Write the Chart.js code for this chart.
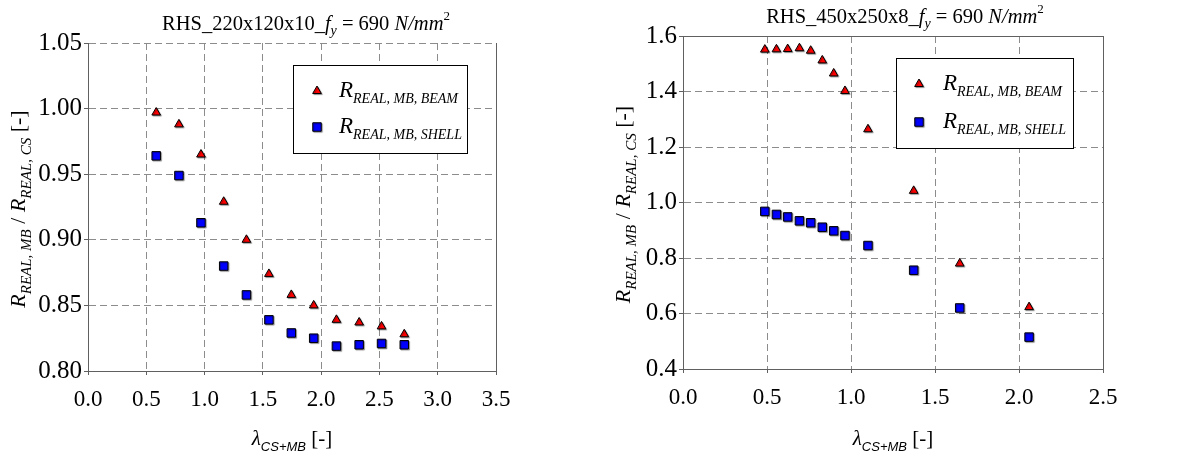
<!DOCTYPE html>
<html>
<head>
<meta charset="utf-8">
<script src="https://cdn.jsdelivr.net/npm/chart.js@4.4.1/dist/chart.umd.min.js"></script>
<style>
  html, body { margin: 0; padding: 0; background: #fff; }
  #wrap { position: relative; width: 1193px; height: 461px; overflow: hidden; }
  .cell { position: absolute; top: 0; height: 461px; }
  #cellA { left: 0; width: 596px; }
  #cellB { left: 596px; width: 597px; }
  canvas { display: block; }
</style>
</head>
<body>
<div id="wrap">
  <div class="cell" id="cellA"><canvas id="chartA" width="596" height="461"></canvas></div>
  <div class="cell" id="cellB"><canvas id="chartB" width="597" height="461"></canvas></div>
</div>
<script>
// ---- RHS 220x120x10, fy = 690 N/mm2 ----
const lambdaA = [0.585, 0.780, 0.969, 1.164, 1.359, 1.552, 1.744, 1.936, 2.131, 2.326, 2.518, 2.713];
const beamA   = [0.997, 0.988, 0.965, 0.929, 0.900, 0.874, 0.858, 0.850, 0.839, 0.837, 0.834, 0.828];
const shellA  = [0.964, 0.949, 0.913, 0.880, 0.858, 0.839, 0.829, 0.825, 0.819, 0.820, 0.821, 0.820];
const xTicksA = [0.0, 0.5, 1.0, 1.5, 2.0, 2.5, 3.0, 3.5];
const yTicksA = [0.80, 0.85, 0.90, 0.95, 1.00, 1.05];

// ---- RHS 450x250x8, fy = 690 N/mm2 ----
const lambdaB = [0.487, 0.556, 0.623, 0.693, 0.760, 0.829, 0.897, 0.964, 1.101, 1.373, 1.647, 2.060];
const beamB   = [1.551, 1.552, 1.553, 1.556, 1.547, 1.512, 1.465, 1.402, 1.264, 1.042, 0.780, 0.623];
const shellB  = [0.968, 0.957, 0.948, 0.934, 0.927, 0.911, 0.898, 0.881, 0.845, 0.756, 0.620, 0.515];
const xTicksB = [0.0, 0.5, 1.0, 1.5, 2.0, 2.5];
const yTicksB = [0.4, 0.6, 0.8, 1.0, 1.2, 1.4, 1.6];

const sectionA = 'RHS_220x120x10_';
const sectionB = 'RHS_450x250x8_';
const seriesNames = ['REAL, MB, BEAM', 'REAL, MB, SHELL'];

const SERIF = '"Liberation Serif", "Times New Roman", serif';
const SANS = '"Liberation Sans", Arial, sans-serif';
const font = (style, size, fam) => `${style} ${size}px ${fam}`;

// draw a run of text pieces (with sub/superscripts) along one baseline
function richWidth(ctx, segs) {
  let w = 0;
  for (const s of segs) { ctx.font = s.f; w += ctx.measureText(s.t).width; }
  return w;
}
function drawRich(ctx, segs, x, y, align) {
  ctx.save();
  ctx.fillStyle = '#000';
  ctx.textBaseline = 'alphabetic';
  ctx.textAlign = 'left';
  let cx = x;
  if (align === 'center') cx = x - richWidth(ctx, segs) / 2;
  for (const s of segs) {
    ctx.font = s.f;
    ctx.fillText(s.t, cx, y + (s.dy || 0));
    cx += ctx.measureText(s.t).width;
  }
  ctx.restore();
}

function titleSegs(section) {
  return [
    { t: section, f: font('normal', 20.5, SERIF) },
    { t: 'f', f: font('italic', 20.5, SERIF) },
    { t: 'y', f: font('italic', 14, SERIF), dy: 5 },
    { t: ' = 690 ', f: font('normal', 20.5, SERIF) },
    { t: 'N/mm', f: font('italic', 20.5, SERIF) },
    { t: '2', f: font('normal', 13, SERIF), dy: -10 }
  ];
}
const yTitleSegs = [
  { t: 'R', f: font('italic', 22, SERIF) },
  { t: 'REAL, MB', f: font('italic', 15, SERIF), dy: 6 },
  { t: ' / ', f: font('normal', 22, SERIF) },
  { t: 'R', f: font('italic', 22, SERIF) },
  { t: 'REAL, CS', f: font('italic', 15, SERIF), dy: 6 },
  { t: ' [-]', f: font('normal', 22, SERIF) }
];
const xTitleSegs = [
  { t: 'λ', f: font('italic', 21, SERIF) },
  { t: 'CS+MB', f: font('italic', 13, SANS), dy: 6 },
  { t: ' [-]', f: font('normal', 21, SERIF) }
];
const legendSegs = name => [
  { t: 'R', f: font('italic', 23, SERIF) },
  { t: name, f: font('italic', 14, SERIF), dy: 6 }
];

const BEAM_STYLE = { pointStyle: 'triangle', radius: 5, color: '#ff0000' };
const SHELL_STYLE = { pointStyle: 'rect', radius: 6, color: '#0000ff' };

function markerShadow(ctx) {
  ctx.shadowColor = 'rgba(0,0,0,0.35)';
  ctx.shadowOffsetX = 1;
  ctx.shadowOffsetY = 1;
  ctx.shadowBlur = 1;
}

// titles, axis titles, frame and legend
const decorPlugin = {
  id: 'decor',
  beforeDatasetsDraw(chart, args, o) {
    const ctx = chart.ctx, a = chart.chartArea;
    ctx.save();
    ctx.strokeStyle = '#606060';
    ctx.lineWidth = 1;
    ctx.beginPath();
    const r = Math.round(a.right) + 0.5, t = Math.round(a.top) + 0.5;
    ctx.moveTo(r, Math.round(a.bottom));
    ctx.lineTo(r, Math.round(a.top));
    if (o.topBorder) { ctx.moveTo(Math.round(a.left), t); ctx.lineTo(r, t); }
    ctx.stroke();
    ctx.restore();
    ctx.save();
    markerShadow(ctx);
  },
  afterDatasetsDraw(chart, args, o) {
    const ctx = chart.ctx, a = chart.chartArea;
    ctx.restore();
    // chart title
    drawRich(ctx, titleSegs(o.section), o.titleX, o.titleY, 'center');
    // x axis title
    drawRich(ctx, xTitleSegs, (a.left + a.right) / 2, o.xTitleY, 'center');
    // y axis title (rotated)
    ctx.save();
    ctx.translate(o.yTitleX, (a.top + a.bottom) / 2 + 2);
    ctx.rotate(-Math.PI / 2);
    drawRich(ctx, yTitleSegs, 0, 0, 'center');
    ctx.restore();
    // legend
    const L = o.legend;
    ctx.save();
    ctx.fillStyle = '#fff';
    ctx.fillRect(L.x, L.y, L.w, L.h);
    ctx.strokeStyle = '#000';
    ctx.lineWidth = 1;
    ctx.strokeRect(Math.round(L.x) + 0.5, Math.round(L.y) + 0.5, Math.round(L.w), Math.round(L.h));
    [BEAM_STYLE, SHELL_STYLE].forEach((st, i) => {
      const my = L.rowY[i];
      ctx.save();
      markerShadow(ctx);
      ctx.fillStyle = st.color;
      ctx.strokeStyle = '#000';
      ctx.lineWidth = 1;
      Chart.helpers.drawPoint(ctx, { pointStyle: st.pointStyle, radius: st.radius, borderWidth: 1, rotation: 0 }, L.markerX, my);
      ctx.restore();
      drawRich(ctx, legendSegs(seriesNames[i]), L.textX, my + 6, 'left');
    });
    ctx.restore();
  }
};

function makeChart(id, cfg) {
  const tickFontX = { family: SERIF, size: 23 };
  const tickFontY = { family: SERIF, size: 25 };
  return new Chart(document.getElementById(id), {
    type: 'scatter',
    data: {
      datasets: [
        {
          label: 'BEAM',
          data: cfg.lambda.map((x, i) => ({ x, y: cfg.beam[i] })),
          pointStyle: BEAM_STYLE.pointStyle,
          pointRadius: BEAM_STYLE.radius,
          pointHoverRadius: BEAM_STYLE.radius,
          backgroundColor: BEAM_STYLE.color,
          borderColor: '#000',
          borderWidth: 1
        },
        {
          label: 'SHELL',
          data: cfg.lambda.map((x, i) => ({ x, y: cfg.shell[i] })),
          pointStyle: SHELL_STYLE.pointStyle,
          pointRadius: SHELL_STYLE.radius,
          pointHoverRadius: SHELL_STYLE.radius,
          backgroundColor: SHELL_STYLE.color,
          borderColor: '#000',
          borderWidth: 1
        }
      ]
    },
    options: {
      responsive: false,
      animation: false,
      devicePixelRatio: 1,
      layout: { padding: { left: 0, top: cfg.top, right: cfg.right, bottom: 0 } },
      plugins: {
        legend: { display: false },
        tooltip: { enabled: false },
        decor: cfg.decor
      },
      scales: {
        x: {
          type: 'linear',
          min: cfg.xTicks[0],
          max: cfg.xTicks[cfg.xTicks.length - 1],
          afterBuildTicks: s => { s.ticks = cfg.xTicks.map(v => ({ value: v })); },
          afterFit: s => { s.height = cfg.xAxisH; },
          ticks: { font: tickFontX, color: '#000', padding: 11, maxRotation: 0, callback: v => Number(v).toFixed(1) },
          grid: { color: '#8c8c8c', lineWidth: 1, tickLength: 4, tickColor: '#606060', tickBorderDash: [] },
          border: { display: true, color: '#606060', width: 1, dash: [7, 4] }
        },
        y: {
          type: 'linear',
          min: cfg.yTicks[0],
          max: cfg.yTicks[cfg.yTicks.length - 1],
          afterBuildTicks: s => { s.ticks = cfg.yTicks.map(v => ({ value: v })); },
          afterFit: s => { s.width = cfg.yAxisW; },
          ticks: { font: tickFontY, color: '#000', padding: 2, callback: v => Number(v).toFixed(cfg.yDec) },
          grid: { color: '#8c8c8c', lineWidth: 1, tickLength: 4, tickColor: '#606060', tickBorderDash: [] },
          border: { display: true, color: '#606060', width: 1, dash: [7, 4] }
        }
      }
    },
    plugins: [decorPlugin]
  });
}

makeChart('chartA', {
  lambda: lambdaA, beam: beamA, shell: shellA,
  xTicks: xTicksA, yTicks: yTicksA, yDec: 2,
  top: 43, right: 100, yAxisW: 88, xAxisH: 90,
  decor: {
    section: sectionA, titleX: 306, titleY: 30, topBorder: false,
    xTitleY: 445, yTitleX: 25,
    legend: { x: 293, y: 65, w: 174, h: 88, markerX: 317, textX: 339, rowY: [91, 127] }
  }
});

makeChart('chartB', {
  lambda: lambdaB, beam: beamB, shell: shellB,
  xTicks: xTicksB, yTicks: yTicksB, yDec: 1,
  top: 36, right: 90, yAxisW: 87, xAxisH: 92,
  decor: {
    section: sectionB, titleX: 309, titleY: 23, topBorder: true,
    xTitleY: 445, yTitleX: 34,
    legend: { x: 300, y: 58, w: 177, h: 90, markerX: 323, textX: 347, rowY: [84, 122] }
  }
});
</script>
</body>
</html>
